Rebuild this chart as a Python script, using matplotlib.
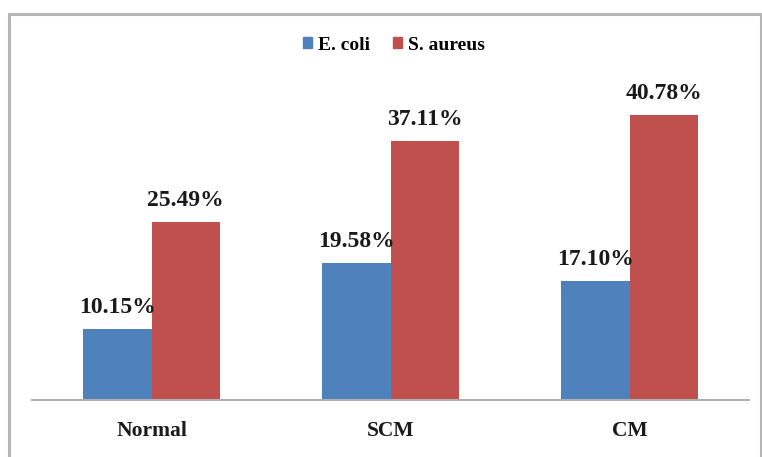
import matplotlib
matplotlib.use("Agg")
import matplotlib.pyplot as plt
import numpy as np
from matplotlib.patches import Rectangle, Patch

categories = ["Normal", "SCM", "CM"]
series_names = ["E. coli", "S. aureus"]
ecoli = [10.15, 19.58, 17.10]
saureus = [25.49, 37.11, 40.78]
colors = ["#4F81BD", "#C0504D"]

plt.rcParams['font.family'] = ['Liberation Serif', 'DejaVu Serif']
plt.rcParams['font.weight'] = 'bold'

W, H = 762, 457
fig = plt.figure(figsize=(W / 100, H / 100), dpi=100)

# outer border
fig.patches.append(Rectangle((9 / W, -0.05), 752 / W, (H - 14) / H + 0.05,
                             transform=fig.transFigure, fill=False,
                             edgecolor="#b5b5b5", linewidth=2.2, zorder=0))

ax = fig.add_axes([32 / W, (H - 400) / H, (749 - 32) / W, (400 - 86) / H])
x = np.arange(len(categories))
bw = 0.285
b1 = ax.bar(x - bw / 2, ecoli, bw, color=colors[0], label=series_names[0])
b2 = ax.bar(x + bw / 2, saureus, bw, color=colors[1], label=series_names[1])

for bars, vals in ((b1, ecoli), (b2, saureus)):
    for rect, v in zip(bars, vals):
        ax.annotate(f"{v:.2f}%", (rect.get_x() + rect.get_width() / 2, v),
                    xytext=(0, 11.5), textcoords="offset points",
                    ha="center", va="baseline", fontsize=17, fontweight="bold",
                    color="#1a1a1a")

ax.set_xlim(-0.5, 2.5)
ax.set_ylim(0, 45)
ax.set_yticks([])
ax.set_xticks(x)
ax.set_xticklabels(categories, fontsize=15.5, fontweight="bold", color="#1a1a1a")
ax.tick_params(axis="x", length=0, pad=15)
for s in ("top", "right", "left"):
    ax.spines[s].set_visible(False)
ax.spines["bottom"].set_color("#b0b0b0")
ax.spines["bottom"].set_linewidth(1.5)
ax.set_facecolor("none")

handles = [Patch(color=colors[0]), Patch(color=colors[1])]
fig.legend(handles, series_names, loc="center", bbox_to_anchor=(394 / W, (H - 45) / H),
           ncol=2, frameon=False, handlelength=0.45, handleheight=0.45,
           handletextpad=0.3, columnspacing=1.2, prop={"weight": "bold", "size": 14})

fig.savefig("out.png", dpi=100)
